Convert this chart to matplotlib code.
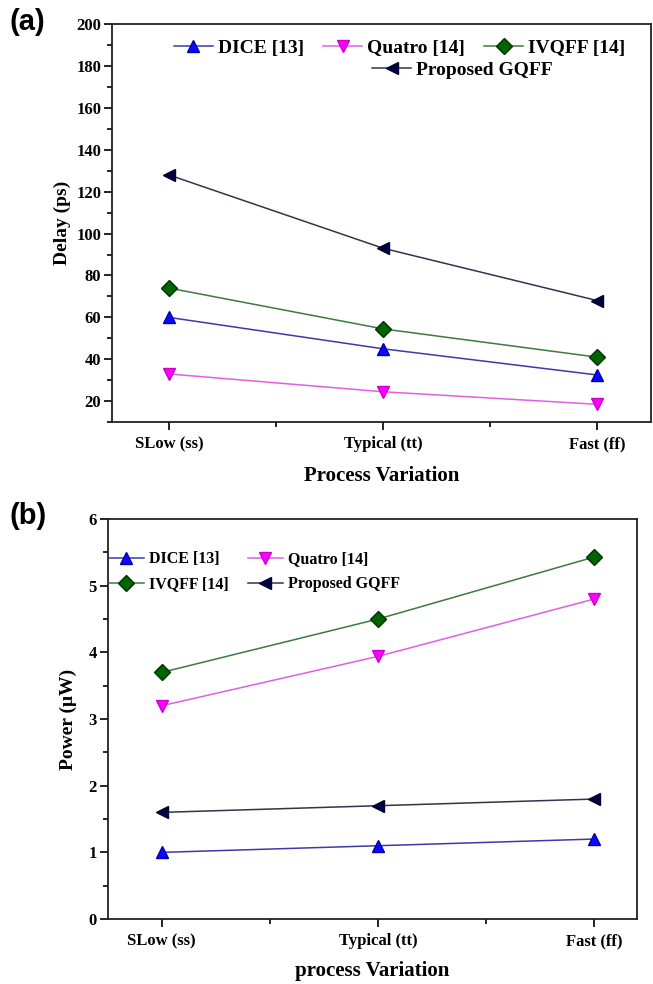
import matplotlib
matplotlib.use("Agg")
from matplotlib import pyplot as plt
from matplotlib.ticker import MultipleLocator, FixedLocator

categories = ["SLow (ss)", "Typical (tt)", "Fast (ff)"]
series_names = ["DICE [13]", "Quatro [14]", "IVQFF [14]", "Proposed GQFF"]

delay_dice = [60, 45, 32.5]
delay_quatro = [33, 24.5, 18.5]
delay_ivqff = [74, 54.5, 41]
delay_gqff = [128, 93, 68]

power_dice = [1.0, 1.1, 1.2]
power_quatro = [3.2, 3.94, 4.8]
power_ivqff = [3.7, 4.5, 5.43]
power_gqff = [1.6, 1.7, 1.8]

styles = [
    dict(color="#3a3aa8", marker="^", mfc="#0a0aff", mec="#0000aa"),
    dict(color="#e060e0", marker="v", mfc="#ff00ff", mec="#cc00cc"),
    dict(color="#3d7a3d", marker="D", mfc="#006400", mec="#003300"),
    dict(color="#33334d", marker="<", mfc="#000040", mec="#000030"),
]

serif = "Liberation Serif"
plt.rcParams["font.family"] = serif
plt.rcParams["font.weight"] = "bold"

fig = plt.figure(figsize=(6.53, 9.84), dpi=100)
ax1 = fig.add_axes([0.172, 0.571, 0.825, 0.4045])
ax2 = fig.add_axes([0.165, 0.066, 0.811, 0.4065])

x = list(range(len(categories)))


def style_axes(ax):
    for s in ax.spines.values():
        s.set_linewidth(1.3)
        s.set_color("#222222")
    ax.set_xticks(x)
    ax.set_xticklabels(categories, fontsize=12, fontweight="bold")
    ax.xaxis.set_minor_locator(FixedLocator([0.5, 1.5]))
    ax.tick_params(which="both", direction="out", top=False, right=False,
                   width=1.2, labelsize=12)
    ax.tick_params(which="major", length=6)
    ax.tick_params(which="minor", length=3.5)
    ax.tick_params(axis="x", pad=4)
    ax.tick_params(axis="y", pad=2)
    for lab in ax.get_yticklabels():
        lab.set_fontweight("bold")


# (a) delay
lines1 = []
for vals, st, name in zip([delay_dice, delay_quatro, delay_ivqff, delay_gqff], styles, series_names):
    ln, = ax1.plot(x, vals, lw=1.1, ms=8, label=name, **st)
    lines1.append(ln)
ax1.set_xlim(-0.264, 2.25)
ax1.set_ylim(10, 200)
ax1.yaxis.set_major_locator(MultipleLocator(20))
ax1.yaxis.set_minor_locator(MultipleLocator(10))
ax1.set_yticks(range(20, 201, 20))
style_axes(ax1)
ax1.set_ylabel("Delay (ps)", fontsize=14, fontweight="bold", labelpad=4)
ax1.set_xlabel("Process Variation", fontsize=15, fontweight="bold", labelpad=10)

leg_a = ax1.legend(handles=lines1[:3], ncol=3, frameon=False, loc="upper left",
                   bbox_to_anchor=(0.1, 0.982), prop=dict(family=serif, weight="bold", size=14),
                   handlelength=2.0, handletextpad=0.25, columnspacing=1.0, borderaxespad=0.2,
                   borderpad=0.2)
ax1.add_artist(leg_a)
ax1.legend(handles=lines1[3:], frameon=False, loc="upper left",
           bbox_to_anchor=(0.468, 0.927), prop=dict(family=serif, weight="bold", size=14),
           handlelength=2.0, handletextpad=0.25, borderaxespad=0.2, borderpad=0.2)

# (b) power
lines2 = []
for vals, st, name in zip([power_dice, power_quatro, power_ivqff, power_gqff], styles, series_names):
    ln, = ax2.plot(x, vals, lw=1.1, ms=8, label=name, **st)
    lines2.append(ln)
ax2.set_xlim(-0.25, 2.2)
ax2.set_ylim(0, 6)
ax2.yaxis.set_major_locator(MultipleLocator(1))
ax2.yaxis.set_minor_locator(MultipleLocator(0.5))
style_axes(ax2)
ax2.set_ylabel("Power (\u03bcW)", fontsize=14, fontweight="bold", labelpad=8)
ax2.set_xlabel("process Variation", fontsize=15, fontweight="bold", labelpad=9)
ax2.legend(handles=[lines2[0], lines2[2], lines2[1], lines2[3]], ncol=2, frameon=False,
           loc="upper left", bbox_to_anchor=(-0.01, 0.935),
           prop=dict(family=serif, weight="bold", size=11.5),
           handlelength=2.2, handletextpad=0.3, columnspacing=1.2, labelspacing=0.55,
           borderaxespad=0.0)

fig.text(0.015, 0.978, "(a)", fontsize=21, fontweight="bold", family="Liberation Sans", va="center")
fig.text(0.015, 0.476, "(b)", fontsize=21, fontweight="bold", family="Liberation Sans", va="center")

fig.savefig("out.png", dpi=100)
